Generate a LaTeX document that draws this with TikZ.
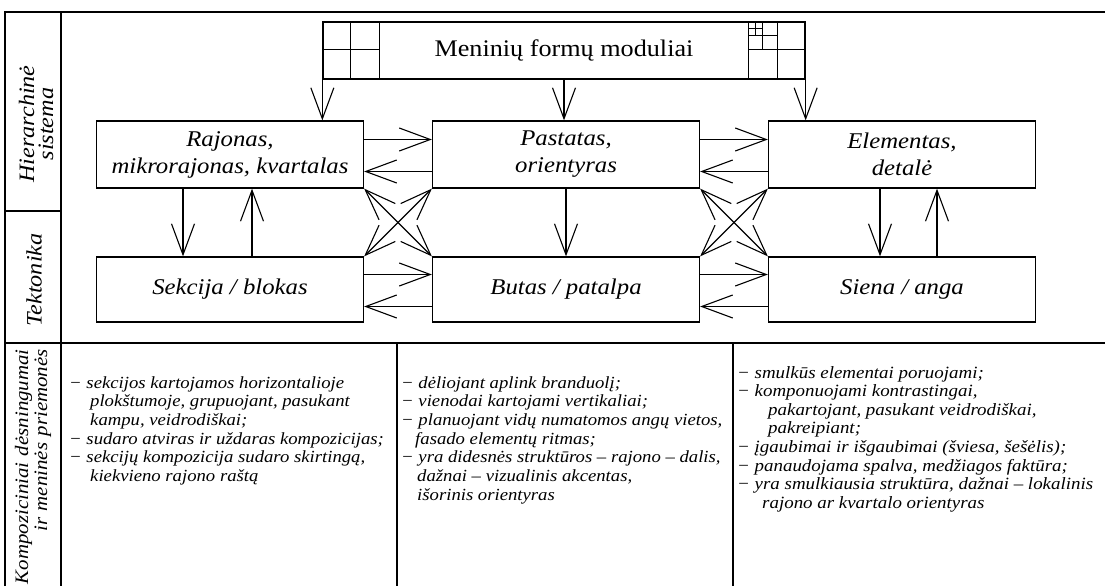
\documentclass[tikz,border=0pt]{standalone}
\usepackage{fontspec}
\setmainfont{Liberation Serif}[FakeStretch=1.1]
\usetikzlibrary{arrows.meta}
\newcommand\blokfont{\fontsize{22.5}{27}\selectfont\itshape}
\newcommand\zymfont{\fontsize{22}{19}\selectfont\itshape}
\tikzset{
  rem/.style={line width=1.3pt},
  blokas/.style={draw, rem, minimum width=267pt, minimum height=67pt, inner sep=0pt, align=center, font=\blokfont},
  eilute/.style={anchor=base west, inner sep=0pt, font=\fontsize{#1}{#1}\selectfont\itshape},
  eilute/.default=17,
  zyme/.style={rotate=90, inner sep=0pt, font=\zymfont},
  >={Straight Barb[length=31pt,width=23pt]},
  rod/.style={line width=1.1pt, ->},
  abi/.style={line width=1.1pt, <->},
}
\begin{document}
\begin{tikzpicture}[x=1pt, y=-1pt]
\useasboundingbox (0,0) rectangle (1105,586);
% lentele
\begin{scope}[rem]
\draw (5,586) -- (5,12) -- (1105,12);
\draw (61,12) -- (61,586);
\draw (5,211) -- (61,211);
\draw (5,343) -- (1105,343);
\draw (397,343) -- (397,586);
\draw (733,343) -- (733,586);
\end{scope}
\node[zyme, text width=190pt, align=center] (hier) at (36,124) {Hierarchinė\\sistema};
\node[zyme] (tekt) at (34,280) {Tektonika};
\node[zyme, anchor=east, text width=236pt, align=right, font=\fontsize{19}{19}\selectfont\itshape] (komp) at (33,349) {Kompoziciniai dėsningumai\\ir meninės priemonės};
% moduliai
\node[draw, rem, minimum width=482pt, minimum height=57pt, inner sep=0pt, font=\fontsize{23.8}{28}\selectfont] (mod) at (564,50.5) {Meninių formų moduliai};
\draw[rem] (mod.north west) rectangle ++(57,57);
\draw[line width=1pt] (mod.north west) ++(28.5,0) -- ++(0,57) (mod.north west) ++(0,28.5) -- ++(57,0);
\coordinate (kamp) at ([xshift=-57pt]mod.north east);
\foreach \s in {57,28.5,14.25} {
  \draw[line width=1pt] (kamp) rectangle ++(\s,\s);
  \draw[line width=1pt] (kamp) ++(\s/2,0) -- ++(0,\s) (kamp) ++(0,\s/2) -- ++(\s,0);
}
\draw[rem] (kamp) rectangle (mod.south east);
% blokai
\node[blokas] (raj) at (230,154.5) {Rajonas,\\mikrorajonas, kvartalas};
\node[blokas] (pas) at (566,154.5) {Pastatas,\\orientyras};
\node[blokas] (ele) at (902,154.5) {Elementas,\\detalė};
\node[blokas, minimum height=65pt] (sek) at (230,289.5) {Sekcija / blokas};
\node[blokas, minimum height=65pt] (but) at (566,289.5) {Butas / patalpa};
\node[blokas, minimum height=65pt] (sie) at (902,289.5) {Siena / anga};
% rodykles
\draw[rod] (mod.south west) -- (mod.south west |- raj.north);
\draw[rod] (mod.south) -- (mod.south |- pas.north);
\draw[rod] (mod.south east) -- (mod.south east |- ele.north);
\draw[rod] ([xshift=-47pt]raj.south) -- ([xshift=-47pt]sek.north);
\draw[rod] ([xshift=22pt]sek.north) -- ([xshift=22pt]raj.south);
\draw[rod] (pas.south) -- (but.north);
\draw[rod] ([xshift=-22pt]ele.south) -- ([xshift=-22pt]sie.north);
\draw[rod] ([xshift=35pt]sie.north) -- ([xshift=35pt]ele.south);
\foreach \a/\b in {raj/pas, pas/ele, sek/but, but/sie} {
  \draw[rod] ([yshift=15pt]\a.east) -- ([yshift=15pt]\b.west);
  \draw[rod] ([yshift=-17pt]\b.west) -- ([yshift=-17pt]\a.east);
}
\draw[abi] (raj.south east) -- (but.north west);
\draw[abi] (pas.south west) -- (sek.north east);
\draw[abi] (pas.south east) -- (sie.north west);
\draw[abi] (ele.south west) -- (but.north east);
% desningumai
\foreach \d/\t [count=\i from 0] in {0/{− sekcijos kartojamos horizontalioje}, 21/{plokštumoje, grupuojant, pasukant}, 21/{kampu, veidrodiškai;}, 0/{− sudaro atviras ir uždaras kompozicijas;}, 0/{− sekcijų kompozicija sudaro skirtingą,}, 21/{kiekvieno rajono raštą}}
  \node[eilute] (a\i) at (69+\d, 388+18.7*\i) {\t};
\foreach \d/\t [count=\i from 0] in {0/{− dėliojant aplink branduolį;}, 0/{− vienodai kartojami vertikaliai;}, 0/{− planuojant vidų numatomos angų vietos,}, 14/{fasado elementų ritmas;}, 0/{− yra didesnės struktūros – rajono – dalis,}, 16/{dažnai – vizualinis akcentas,}, 16/{išorinis orientyras}}
  \node[eilute] (b\i) at (401+\d, 388+18.7*\i) {\t};
\foreach \d/\t [count=\i from 0] in {0/{− smulkūs elementai poruojami;}, 0/{− komponuojami kontrastingai,}, 31/{pakartojant, pasukant veidrodiškai,}, 31/{pakreipiant;}, 0/{− įgaubimai ir išgaubimai (šviesa, šešėlis);}, 0/{− panaudojama spalva, medžiagos faktūra;}, 0/{− yra smulkiausia struktūra, dažnai – lokalinis}, 25/{rajono ar kvartalo orientyras}}
  \node[eilute=17.2] (c\i) at (737+\d, 378+18.6*\i) {\t};
\end{tikzpicture}
\end{document}
